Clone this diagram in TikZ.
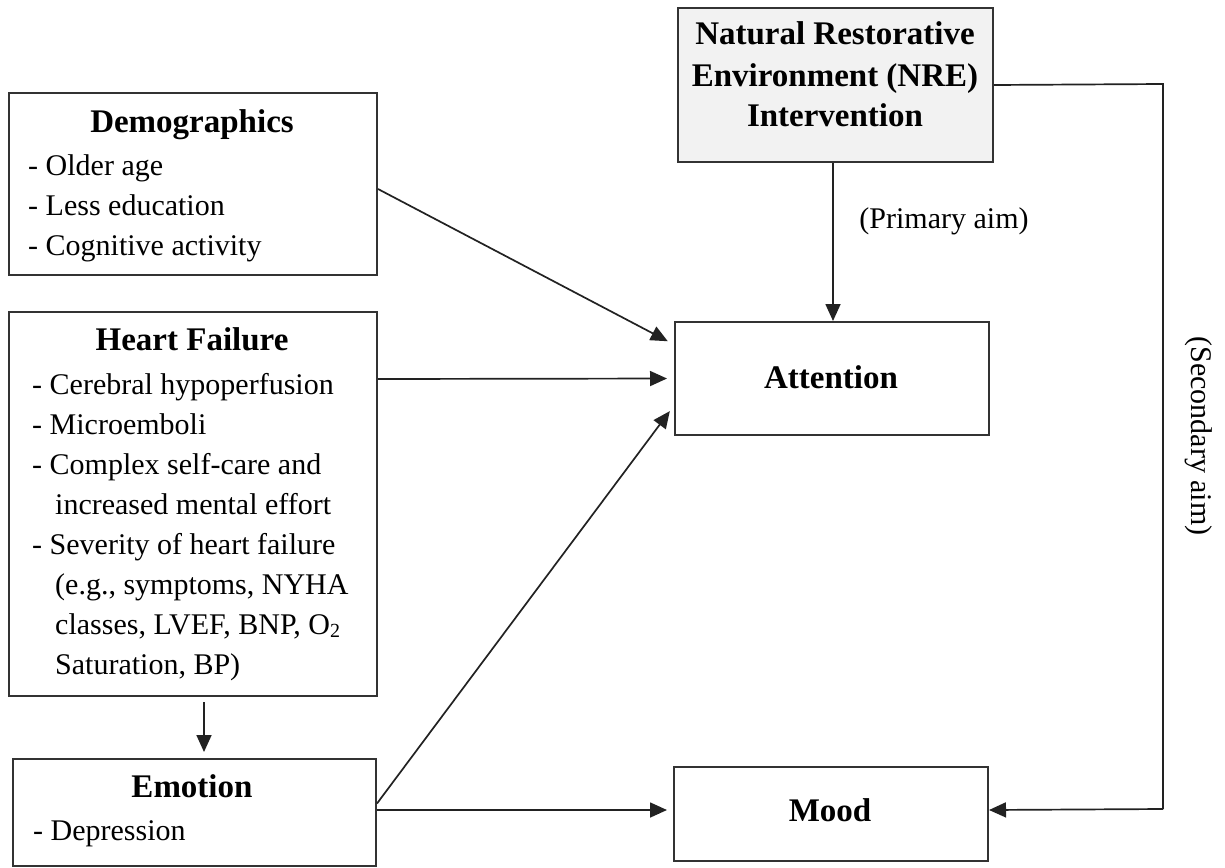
\documentclass[tikz,border=0pt]{standalone}
\usepackage{fontspec}
\setmainfont{Liberation Serif}
\usetikzlibrary{arrows.meta}
\definecolor{boxline}{HTML}{333333}
\definecolor{arrline}{HTML}{222222}
\definecolor{nrefill}{HTML}{F2F2F2}
\begin{document}
\begin{tikzpicture}[x=1pt,y=-1pt,
  box/.style={draw=boxline, line width=2pt, fill=white, inner sep=0, anchor=north west},
  body/.style={font=\fontsize{30}{40}\selectfont, inner sep=0, anchor=base west},
  ttl/.style={font=\fontsize{33}{40}\selectfont\bfseries, inner sep=0, anchor=base},
  arr/.style={draw=arrline, line width=1.7pt, -{Triangle[length=17pt,width=15pt]}},
  ln/.style={draw=arrline, line width=1.7pt}
]
\useasboundingbox (0,0) rectangle (1225,867);

% boxes
\node[box, minimum width=368pt, minimum height=182pt] (demo) at (8,92) {};
\node[box, minimum width=368pt, minimum height=384pt] (hf) at (8,311) {};
\node[box, minimum width=363pt, minimum height=107pt] (emo) at (12,758) {};
\node[box, fill=nrefill, minimum width=315pt, minimum height=154pt] (nre) at (677,7) {};
\node[box, minimum width=314pt, minimum height=113pt] (att) at (674,321) {};
\node[box, minimum width=314pt, minimum height=94pt] (mood) at (673,766) {};

% Demographics text
\node[ttl] (dt) at (192,132) {Demographics};
\node[body] (d1) at (28,175) {- Older age};
\node[body] (d2) at (28,215) {- Less education};
\node[body] (d3) at (28,255) {- Cognitive activity};

% Heart failure text
\node[ttl] (ht) at (192,350) {Heart Failure};
\node[body] (h1) at (32,394) {- Cerebral hypoperfusion};
\node[body] (h2) at (32,434) {- Microemboli};
\node[body] (h3) at (32,474) {- Complex self-care and};
\node[body] (h4) at (55,514) {increased mental effort};
\node[body] (h5) at (32,554) {- Severity of heart failure};
\node[body] (h6) at (55,594) {(e.g., symptoms, NYHA};
\node[body] (h7) at (55,634) {classes, LVEF, BNP, O\raisebox{-0.25ex}{\fontsize{20}{20}\selectfont 2}};
\node[body] (h8) at (55,674) {Saturation, BP)};

% Emotion text
\node[ttl] (et) at (192,797) {Emotion};
\node[body] (e1) at (33,840) {- Depression};

% NRE text
\node[ttl] (n1) at (835,45) {Natural Restorative};
\node[ttl] (n2) at (835,86) {Environment (NRE)};
\node[ttl] (n3) at (835,126) {Intervention};

% Attention / Mood text
\node[ttl] (at) at (831,388) {Attention};
\node[ttl] (mt) at (830,821) {Mood};

% labels
\node[font=\fontsize{30}{40}\selectfont, inner sep=0, anchor=base] (prim) at (944,228) {(Primary aim)};
\node[font=\fontsize{30}{40}\selectfont, inner sep=0, rotate=-90] (sec) at (1199,436) {(Secondary aim)};

% connectors
\draw[arr, shorten >=7pt] ([yshift=-5pt]demo.east) -- ([yshift=34pt]att.west);
\draw[arr, shorten >=7pt] ([yshift=125pt]hf.east) -- ([yshift=0pt]att.west);
\draw[arr, shorten >=7pt] ([yshift=9pt]emo.east) -- ([yshift=-27pt]att.west);
\draw[arr, shorten >=6pt] ([yshift=2.5pt]emo.east) -- ([yshift=4pt]mood.west);
\draw[arr, shorten <=5pt, shorten >=6pt] (hf.south) ++(11pt,0) coordinate (hfs) (hfs) -- (hfs |- emo.north);
\draw[arr] (nre.south -| 833,0) coordinate (nres) (nres) -- (nres |- att.north);

\coordinate (c1) at (1163,84);
\coordinate (c2) at (1163,809);
\draw[ln] (nre.east) -- (c1) -- (c2);
\draw[arr] (c2) -- ([yshift=4pt]mood.east);
\end{tikzpicture}
\end{document}
